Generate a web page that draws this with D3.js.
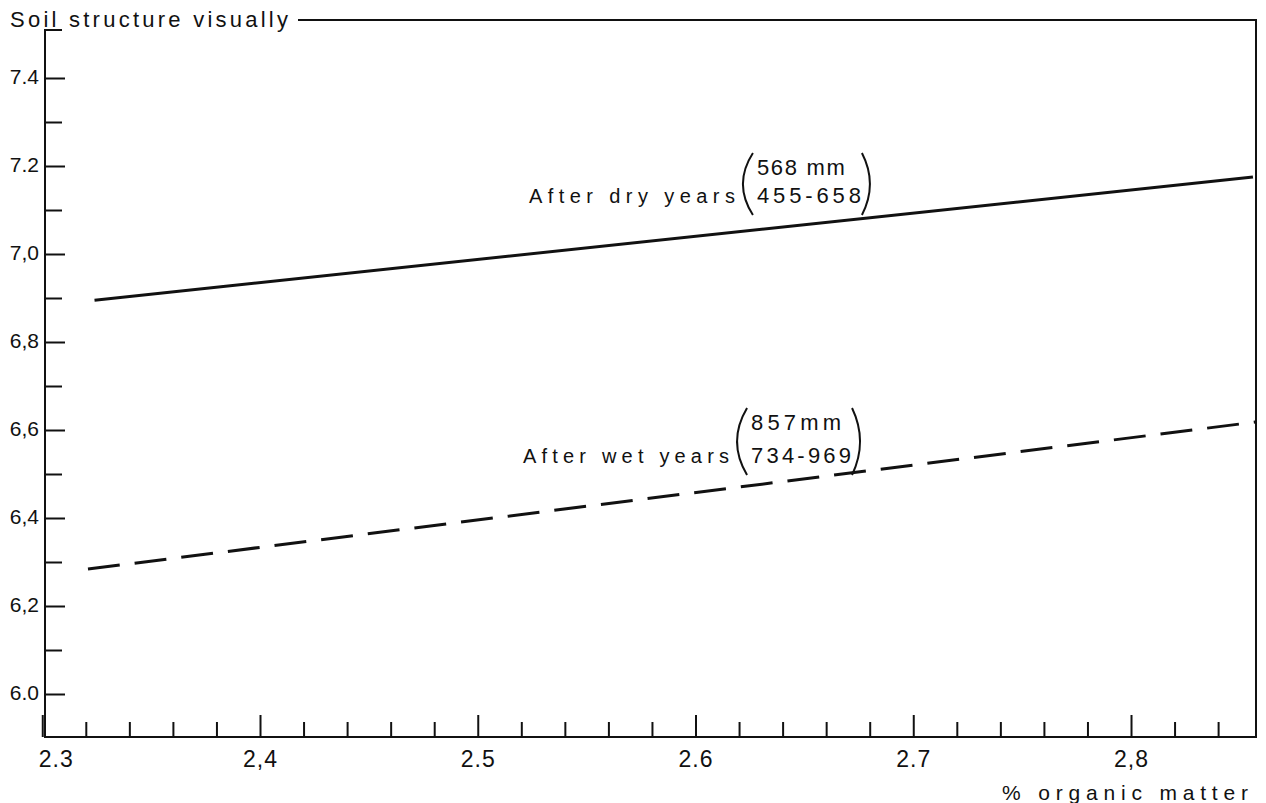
<!DOCTYPE html>
<html>
<head>
<meta charset="utf-8">
<script src="https://cdn.jsdelivr.net/npm/d3@7"></script>
<style>
  body { margin: 0; background: #fff; }
  text { font-family: "Liberation Sans", Arial, sans-serif; fill: #111; }
</style>
</head>
<body>
<div id="chart"></div>
<script>
// values
var dryX = [2.324, 2.856],
    dryY = [6.895, 7.175];
var wetX = [2.321, 2.857],
    wetY = [6.284, 6.618];

var xTicks = [2.3, 2.4, 2.5, 2.6, 2.7, 2.8];
var xTickLabels = ["2.3", "2,4", "2.5", "2.6", "2.7", "2,8"];
var yTicks = [6.0, 6.2, 6.4, 6.6, 6.8, 7.0, 7.2, 7.4];
var yTickLabels = ["6.0", "6,2", "6,4", "6,6", "6,8", "7,0", "7.2", "7.4"];

var width = 1266, height = 803;

var svg = d3.select("#chart")
  .append("svg")
    .attr("width", width)
    .attr("height", height);

var x = d3.scaleLinear()
  .domain([2.3, 2.8574])
  .range([42.25, 1256]);

var y = d3.scaleLinear()
  .domain([5.9, 7.5])
  .range([738, 34]);

var fLeft = 45, fRight = 1256, fTop = 20, fBottom = 737;

// frame: open corner at top-left where the title sits
svg.append("path")
  .attr("d", "M" + (fLeft + 17) + ",30H" + fLeft + "V" + fBottom + "H" + fRight + "V" + fTop + "H298")
  .attr("fill", "none")
  .attr("stroke", "#111")
  .attr("stroke-width", 2);

// x axis, minor ticks every 0.02
var xMinor = d3.range(2.32, 2.85, 0.02).filter(function(v) {
  return Math.abs(v * 10 - Math.round(v * 10)) > 0.01;
});
svg.append("g")
  .attr("transform", "translate(0," + fBottom + ")")
  .call(d3.axisBottom(x).tickValues(xMinor).tickSize(-15).tickFormat(""))
  .call(function(g) { g.select(".domain").remove(); })
  .selectAll("line").attr("stroke", "#111").attr("stroke-width", 2);

var gx = svg.append("g")
  .attr("transform", "translate(0," + fBottom + ")")
  .call(d3.axisBottom(x).tickValues(xTicks).tickSize(-22)
    .tickFormat(function(d, i) { return xTickLabels[i]; }));
gx.select(".domain").remove();
gx.selectAll("line").attr("stroke", "#111").attr("stroke-width", 2);
gx.selectAll("text")
  .attr("y", 30)
  .attr("dy", 0)
  .style("font-size", "23px")
  .style("letter-spacing", "1px")
  .attr("fill", "#111")
  .filter(function(d) { return d === 2.3; })
  .attr("text-anchor", "start")
  .attr("dx", -4);

// y axis, minor ticks every 0.1
var yMinor = [6.1, 6.3, 6.5, 6.7, 6.9, 7.1, 7.3];
svg.append("g")
  .attr("transform", "translate(" + fLeft + ",0)")
  .call(d3.axisLeft(y).tickValues(yMinor).tickSize(-17).tickFormat(""))
  .call(function(g) { g.select(".domain").remove(); })
  .selectAll("line").attr("stroke", "#111").attr("stroke-width", 2);

var gy = svg.append("g")
  .attr("transform", "translate(" + fLeft + ",0)")
  .call(d3.axisLeft(y).tickValues(yTicks).tickSize(-20).tickPadding(6)
    .tickFormat(function(d, i) { return yTickLabels[i]; }));
gy.select(".domain").remove();
gy.selectAll("line").attr("stroke", "#111").attr("stroke-width", 2);
gy.selectAll("text")
  .attr("dy", "0.25em")
  .style("font-size", "21px")
  .attr("fill", "#111");

// lines
var line = d3.line()
  .x(function(d) { return x(d[0]); })
  .y(function(d) { return y(d[1]); });

svg.append("path")
  .datum(d3.zip(dryX, dryY))
  .attr("d", line)
  .attr("fill", "none")
  .attr("stroke", "#111")
  .attr("stroke-width", 3);

svg.append("path")
  .datum(d3.zip(wetX, wetY))
  .attr("d", line)
  .attr("fill", "none")
  .attr("stroke", "#111")
  .attr("stroke-width", 3)
  .attr("stroke-dasharray", "32,15");

// titles
svg.append("text")
  .attr("x", 10)
  .attr("y", 27)
  .attr("textLength", 278)
  .attr("lengthAdjust", "spacing")
  .style("font-size", "22px")
  .text("Soil structure visually");

svg.append("text")
  .attr("x", 1002)
  .attr("y", 800)
  .attr("textLength", 246)
  .attr("lengthAdjust", "spacing")
  .style("font-size", "21px")
  .text("% organic matter");

// line labels with bracketed rainfall
function label(ax, ay, name, topTxt, botTxt, topDy, topLen, botLen) {
  var g = svg.append("g")
    .attr("transform", "translate(" + x(ax) + "," + y(ay) + ")");
  g.append("text")
    .attr("x", 0).attr("y", 0)
    .attr("textLength", 206)
    .attr("lengthAdjust", "spacing")
    .style("font-size", "20px")
    .text(name);
  g.append("text")
    .attr("x", 228).attr("y", topDy)
    .attr("textLength", topLen)
    .attr("lengthAdjust", "spacing")
    .style("font-size", "22px")
    .text(topTxt);
  g.append("text")
    .attr("x", 228).attr("y", 0)
    .attr("textLength", botLen)
    .attr("lengthAdjust", "spacing")
    .style("font-size", "22px")
    .text(botTxt);
  var t = topDy - 22, b = 12, m = (t + b) / 2;
  g.append("path")
    .attr("d", "M224," + t + "Q204," + m + " 224," + b)
    .attr("fill", "none").attr("stroke", "#111").attr("stroke-width", 2);
  var rx = 228 + Math.max(topLen, botLen) + 1;
  g.append("path")
    .attr("d", "M" + rx + "," + t + "Q" + (rx + 16) + "," + m + " " + rx + "," + b)
    .attr("fill", "none").attr("stroke", "#111").attr("stroke-width", 2);
}

label(2.5235, 7.116, "After dry years", "568 mm", "455-658", -28, 88, 104);
label(2.5208, 6.525, "After wet years", "857mm", "734-969", -33, 90, 100);
</script>
</body>
</html>
